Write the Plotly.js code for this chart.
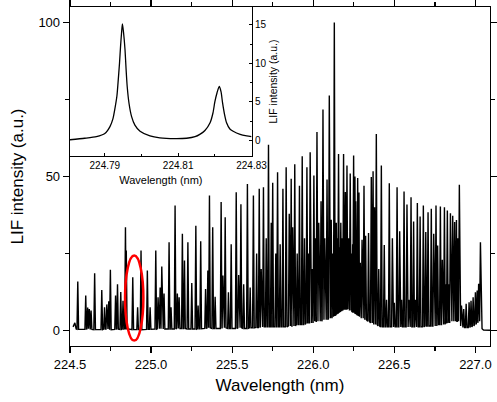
<!DOCTYPE html>
<html><head><meta charset="utf-8">
<script src="https://cdn.plot.ly/plotly-3.0.1.min.js"></script>
<style>html,body{margin:0;padding:0;background:#fff}#chart{width:497px;height:402px}</style>
</head><body><div id="chart"></div>
<script>
// Main spectrum: peak positions (nm), peak heights (a.u.), local floor under each peak (a.u.)
const peakWl = [
224.548,224.597,224.609,224.619,224.630,224.652,224.696,224.713,224.727,224.739,224.749,224.781,224.793,224.813,224.827,224.842,224.847,224.887,224.917,224.938,224.977,224.994,
225.029,225.043,225.056,225.066,225.080,225.111,225.123,225.148,225.162,225.173,225.193,225.206,225.227,225.251,225.276,225.290,225.306,225.336,225.350,225.360,225.380,225.395,
225.432,225.443,225.457,225.477,225.494,225.525,225.540,225.554,225.571,225.594,225.611,225.631,225.651,225.667,225.679,225.693,225.710,225.724,225.741,225.750,225.769,225.780,225.796,225.813,225.833,225.852,225.864,225.873,225.886,
225.901,225.915,225.932,225.946,225.961,225.972,225.981,225.994,226.004,226.014,226.023,226.034,226.048,226.060,226.071,226.085,226.099,226.111,226.120,226.130,226.136,226.142,226.149,226.156,226.163,226.170,226.178,226.187,226.192,226.198,226.203,226.208,226.218,226.228,226.238,226.243,226.249,226.257,226.262,226.268,226.274,226.282,226.290,226.301,226.313,226.323,226.341,226.358,226.369,226.378,226.389,
226.404,226.420,226.438,226.452,226.469,226.488,226.500,226.517,226.533,226.545,226.560,226.578,226.590,226.603,226.619,226.630,226.642,226.659,226.679,226.694,226.708,226.728,226.743,226.757,226.767,226.784,226.796,226.809,226.818,226.827,226.837,226.846,226.860,226.872,226.883,226.891,226.901,
226.914,226.928,226.943,226.961,226.973,226.986,227.000,227.011,227.020,227.031
];
const peakInt = [
15.9,11.4,7.5,7.0,6.5,18.6,13.2,7.6,8.5,9.5,19.7,11.4,15.0,12.5,9.7,33.5,26,17.3,7.6,26.0,19.5,7.6,
26.0,10.8,14,20.8,12.0,28.7,7.6,40.6,12.0,10.8,31.4,22.7,28.7,15.4,34.0,8.1,29.0,13.5,19.5,43.8,33.5,11.0,
41.7,17.9,36.8,12.4,28.0,44.9,18.0,41.0,15.0,47.6,14.0,43.8,25.0,46.0,20.0,46.5,30.0,60.3,35.0,48.0,25.0,51.4,28.0,46.0,53.0,37.9,49.3,33.5,54.0,
25.0,47.0,56.6,30.0,53.0,25.0,57.9,20.0,50.3,30.0,64.4,35.0,42.0,71.7,30.0,49.0,76.3,36.0,25,100.0,28,35.0,30,57.3,27,35.0,30,57.3,25,45.0,28,53.6,30,51.0,25,28,56.8,50.0,42.0,25,49.5,44.8,22,29.5,47.0,30.8,31.7,49.8,51.7,40.0,63.8,
20.0,53.6,27.8,10,47.8,30.0,9,46.5,32.2,10,45.1,40.9,10,43.3,35.4,10,41.4,37.0,40.6,32.0,38.4,39.5,31.4,40.6,27.6,40.3,23.0,40.0,15,39.0,15,38.1,37.3,35.2,35.9,30.0,47.3,
8.1,7.0,8.7,9.2,9.7,10.8,12.4,13.0,15.2,28.7
];
const peakBase = [
0.4,0.4,0.6,0.6,0.4,0.3,0.3,0.5,0.5,0.5,0.3,0.4,0.5,0.4,0.5,0.6,0.6,0.3,0.3,0.3,0.4,0.4,
0.5,0.6,0.6,0.6,0.5,0.5,0.5,0.5,0.7,0.7,0.7,0.7,0.5,0.5,0.5,0.6,0.6,0.7,0.9,0.9,0.7,0.7,
0.7,0.9,0.9,0.7,0.7,0.7,0.9,0.9,0.7,0.7,0.9,0.9,1.0,1.0,1.2,1.2,1.2,1.2,1.2,1.2,1.2,1.2,1.2,1.2,1.2,1.5,1.5,1.5,1.5,
2,2,2,2,2.5,2.5,2.5,2.5,3,3,3,3,3,3.5,3.5,3.5,4,4,4.5,5,5,5.5,5.5,6,6,6.5,6.5,7,7,7,7,7,7,6.5,6.5,6,6,6,5.5,5.5,5,5,4.5,4,4,3.5,3,2.5,2.5,2,2,
1.5,1.2,1.2,1.2,1.2,1.2,1.2,1.2,1.2,1.2,1.2,1.2,1.2,1.2,1.2,1.2,1.2,1.2,1.2,1.5,1.5,1.5,1.5,1.5,2,2,2,2,2.5,2.5,2.5,3,3,3,3,3,3,
1.5,1.0,1.0,1.0,1.2,1.5,2,2.5,3,3
];
// Leading and trailing stretches of the trace
const leadWl = [224.519, 224.530, 224.538];
const leadInt = [1.2, 2.5, 0.5];
const tailWl = [227.041, 227.050, 227.090];
const tailInt = [0.6, 0.2, 0.1];

// Inset: zoom of two lines
const insetWl = [224.7804,224.7845,224.7877,224.7900,224.7914,224.7922,224.7927,224.7933,224.7936,224.7940,224.7943,224.7946,224.7948,224.7951,224.7955,224.7958,224.7961,224.7966,224.7973,224.7982,224.7996,224.8023,224.8050,224.8091,224.8123,224.8146,224.8159,224.8173,224.8187,224.8195,224.8200,224.8206,224.8212,224.8217,224.8221,224.8226,224.8232,224.8241,224.8250,224.8269,224.8287,224.8300];
const insetInt = [0.1,0.3,0.5,0.9,1.8,2.8,4.0,5.8,7.5,10,12.3,14.2,15.1,14.0,11.8,9.2,7.0,4.8,3.1,2.0,1.2,0.6,0.35,0.25,0.3,0.5,0.8,1.3,2.3,3.6,5.0,6.2,7.0,6.3,4.9,3.5,2.3,1.5,1.2,0.8,0.6,0.5];

const HW = 0.005; // half base width of each drawn line (nm)
const order = peakWl.map((_, i) => i).sort((a, b) => peakWl[a] - peakWl[b]);
const xs = [...leadWl], ys = [...leadInt];
for (const i of order) {
  xs.push(peakWl[i] - HW, peakWl[i], peakWl[i] + HW);
  ys.push(peakBase[i], peakInt[i], peakBase[i]);
}
xs.push(...tailWl); ys.push(...tailInt);

const FONT = 'Liberation Sans, Arial, sans-serif';
const axBase = {showline:true, linecolor:'#000', linewidth:1.3, showgrid:false, zeroline:false, tickcolor:'#000', tickwidth:1.3};

const traces = [
  {x: xs, y: ys, xaxis:'x', yaxis:'y', type:'scatter', mode:'lines', line:{color:'#000', width:1.4}, hoverinfo:'skip'},
  {x: insetWl, y: insetInt, xaxis:'x2', yaxis:'y2', type:'scatter', mode:'lines', line:{color:'#000', width:1.3, shape:'spline', smoothing:0.6}, hoverinfo:'skip'}
];

const layout = {
  width:497, height:402,
  margin:{l:70, r:7, t:7, b:56},
  paper_bgcolor:'#fff', plot_bgcolor:'#fff', showlegend:false,
  font:{family:FONT, color:'#000'},
  xaxis: Object.assign({}, axBase, {
    domain:[0,1], anchor:'y', range:[224.5, 227.09], tick0:224.5, dtick:0.5, tickformat:'.1f',
    ticks:'outside', ticklen:6, mirror:'allticks', tickfont:{size:13},
    title:{text:'Wavelength (nm)', font:{size:17}, standoff:8},
    minor:{tick0:224.5, dtick:0.25, ticks:'outside', ticklen:3.5, tickwidth:1.3, tickcolor:'#000', showgrid:false}
  }),
  yaxis: Object.assign({}, axBase, {
    domain:[0,1], anchor:'x', range:[-5, 105], tick0:0, dtick:50,
    ticks:'outside', ticklen:6, mirror:'allticks', tickfont:{size:13},
    title:{text:'LIF intensity (a.u.)', font:{size:17}, standoff:10},
    minor:{tick0:0, dtick:25, ticks:'outside', ticklen:3.5, tickwidth:1.3, tickcolor:'#000', showgrid:false}
  }),
  xaxis2: Object.assign({}, axBase, {
    domain:[0,0.4326], anchor:'y2', range:[224.7805, 224.83005], tick0:224.79, dtick:0.02, tickformat:'.2f',
    ticks:'inside', ticklen:3, tickwidth:1, mirror:true, tickfont:{size:10},
    title:{text:'Wavelength (nm)', font:{size:11}, standoff:6},
    minor:{tick0:224.79, dtick:0.01, ticks:'inside', ticklen:2, tickwidth:1, tickcolor:'#000', showgrid:false}
  }),
  yaxis2: Object.assign({}, axBase, {
    domain:[0.5605,1], anchor:'x2', side:'right', range:[-2, 17.3], tick0:0, dtick:5,
    ticks:'inside', ticklen:3, tickwidth:1, mirror:true, tickfont:{size:10},
    title:{text:'LIF intensity (a.u.)', font:{size:10.5}, standoff:3},
    minor:{tick0:0, dtick:2.5, ticks:'inside', ticklen:2, tickwidth:1, tickcolor:'#000', showgrid:false}
  }),
  shapes:[{type:'circle', xref:'x', yref:'y', x0:224.8395, x1:224.9525, y0:-3.25, y1:24.35, line:{color:'#ff0000', width:2.5}}]
};

Plotly.newPlot('chart', traces, layout, {displayModeBar:false, staticPlot:true});
</script>
</body></html>
